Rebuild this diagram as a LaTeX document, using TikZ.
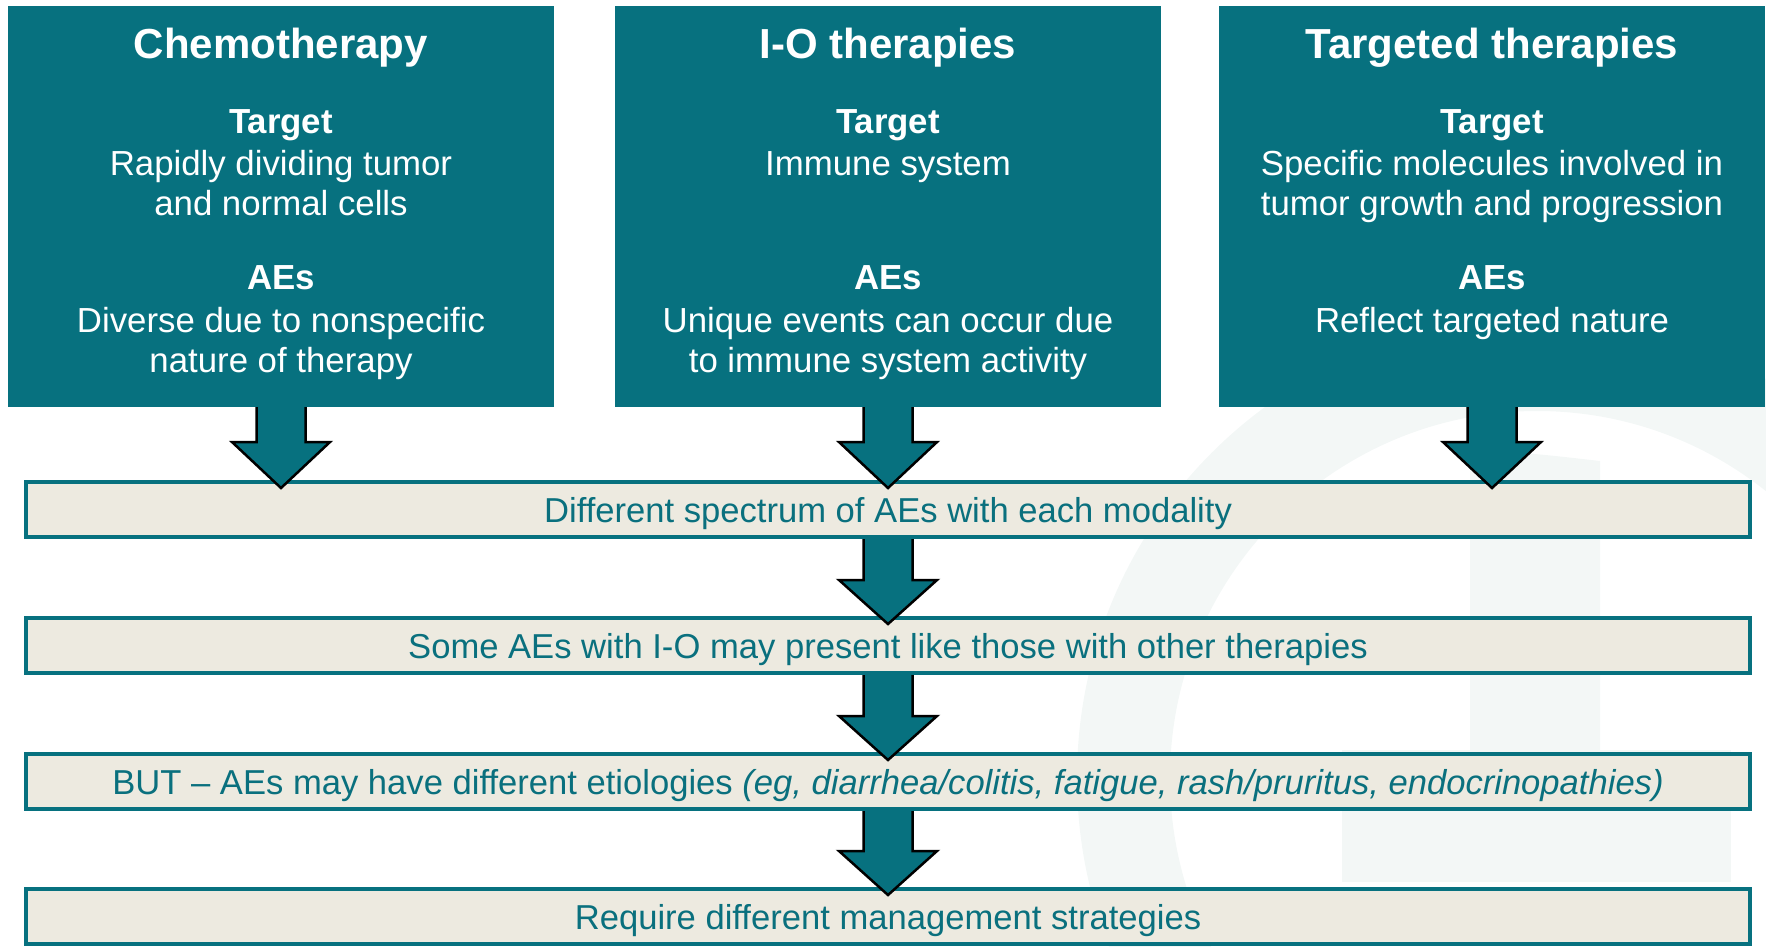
\documentclass[tikz,border=0pt]{standalone}
\usepackage{fontspec}
\setmainfont{Liberation Sans}
\usetikzlibrary{calc}

\definecolor{modteal}{RGB}{7,113,127}
\definecolor{barfill}{RGB}{237,234,224}
\definecolor{barink}{RGB}{10,112,126}
\definecolor{wmark}{RGB}{243,247,246}

\tikzset{
  modbox/.style={fill=modteal, draw=none, inner sep=0pt, outer sep=0pt,
    minimum width=546pt, minimum height=401pt, anchor=north west},
  modtitle/.style={text=white, font=\bfseries\fontsize{42}{48}\selectfont,
    anchor=base, inner sep=0pt},
  modhead/.style={text=white, font=\bfseries\fontsize{34.8}{42}\selectfont,
    anchor=base, inner sep=0pt},
  modtext/.style={text=white, font=\fontsize{34.8}{42}\selectfont,
    anchor=base, inner sep=0pt},
  stagebar/.style={fill=barfill, draw=modteal, line width=4pt, inner sep=0pt,
    outer sep=0pt, minimum width=1724pt, minimum height=55pt,
    text height=29pt, text depth=3pt, text=barink,
    font=\fontsize{34.6}{42}\selectfont, anchor=north},
  fatfill/.style={fill=modteal},
  fatedge/.style={draw=black, line width=2.5pt, line join=miter},
}

% Block arrow: #1 top of the shaft, #2 tip, #3 length of the head
\newcommand{\fatarrow}[3]{%
  \fill[fatfill] ($(#1)+(-24.5,0)$) -- ($(#2)+(-24.5,-#3)$) -- ($(#2)+(-49,-#3)$)
    -- (#2) -- ($(#2)+(49,-#3)$) -- ($(#2)+(24.5,-#3)$) -- ($(#1)+(24.5,0)$) -- cycle;
  \draw[fatedge] ($(#1)+(-24.5,0)$) -- ($(#2)+(-24.5,-#3)$) -- ($(#2)+(-49,-#3)$)
    -- (#2) -- ($(#2)+(49,-#3)$) -- ($(#2)+(24.5,-#3)$) -- ($(#1)+(24.5,0)$);
}

\begin{document}
\begin{tikzpicture}[x=1pt,y=-1pt]
\useasboundingbox (0,0) rectangle (1766,946);

% pale emblem in the background
\begin{scope}
  \clip (0,0) rectangle (1766,946);
  \fill[wmark, even odd rule] (1537,778) circle[radius=460pt] (1537,778) circle[radius=367pt];
  \fill[wmark] (1470,451) .. controls (1530,453) .. (1600,461) -- (1600,752) -- (1470,752) -- cycle;
  \fill[wmark] (1342,750) rectangle (1731,882);
\end{scope}

% three treatment modalities
\node[modbox] (chemo) at (8,6) {};
\node[modbox] (io) at (615,6) {};
\node[modbox] (targ) at (1219,6) {};

\node[modtitle] (chemoT) at ([yshift=-52pt]chemo.north) {Chemotherapy};
\node[modhead]  (chemoA) at ([yshift=-127pt]chemo.north) {Target};
\node[modtext]  (chemoB) at ([yshift=-169pt]chemo.north) {Rapidly dividing tumor};
\node[modtext]  (chemoC) at ([yshift=-209pt]chemo.north) {and normal cells};
\node[modhead]  (chemoD) at ([yshift=-283pt]chemo.north) {AEs};
\node[modtext]  (chemoE) at ([yshift=-326pt]chemo.north) {Diverse due to nonspecific};
\node[modtext]  (chemoF) at ([yshift=-366pt]chemo.north) {nature of therapy};

\node[modtitle] (ioT) at ([yshift=-52pt]io.north) {I-O therapies};
\node[modhead]  (ioA) at ([yshift=-127pt]io.north) {Target};
\node[modtext]  (ioB) at ([yshift=-169pt]io.north) {Immune system};
\node[modhead]  (ioD) at ([yshift=-283pt]io.north) {AEs};
\node[modtext]  (ioE) at ([yshift=-326pt]io.north) {Unique events can occur due};
\node[modtext]  (ioF) at ([yshift=-366pt]io.north) {to immune system activity};

\node[modtitle] (targT) at ([yshift=-52pt]targ.north) {Targeted therapies};
\node[modhead]  (targA) at ([yshift=-127pt]targ.north) {Target};
\node[modtext]  (targB) at ([yshift=-169pt]targ.north) {Specific molecules involved in};
\node[modtext]  (targC) at ([yshift=-209pt]targ.north) {tumor growth and progression};
\node[modhead]  (targD) at ([yshift=-283pt]targ.north) {AEs};
\node[modtext]  (targE) at ([yshift=-326pt]targ.north) {Reflect targeted nature};

% consequence bars
\node[stagebar] (bar1) at (888,482) {Different spectrum of AEs with each modality};
\node[stagebar] (bar2) at (888,618) {Some AEs with I-O may present like those with other therapies};
\node[stagebar] (bar3) at (888,754) {BUT \textendash{} AEs may have different etiologies \textit{(eg, diarrhea/colitis, fatigue, rash/pruritus, endocrinopathies)}};
\node[stagebar] (bar4) at (888,889) {Require different management strategies};

% arrows from the modalities into the first bar
\coordinate (tipA) at ($(chemo.south |- bar1.north)+(0,6)$);
\coordinate (tipB) at ($(io.south |- bar1.north)+(0,6)$);
\coordinate (tipC) at ($(targ.south |- bar1.north)+(0,6)$);
\fatarrow{chemo.south}{tipA}{46}
\fatarrow{io.south}{tipB}{46}
\fatarrow{targ.south}{tipC}{46}

% arrows down the chain of bars
\coordinate (top12) at ($(bar1.south)+(0,2)$);
\coordinate (tip12) at ($(bar2.north)+(0,6)$);
\coordinate (top23) at ($(bar2.south)+(0,2)$);
\coordinate (tip23) at ($(bar3.north)+(0,6)$);
\coordinate (top34) at ($(bar3.south)+(0,2)$);
\coordinate (tip34) at ($(bar4.north)+(0,6)$);
\fatarrow{top12}{tip12}{44}
\fatarrow{top23}{tip23}{44}
\fatarrow{top34}{tip34}{44}
\end{tikzpicture}
\end{document}
